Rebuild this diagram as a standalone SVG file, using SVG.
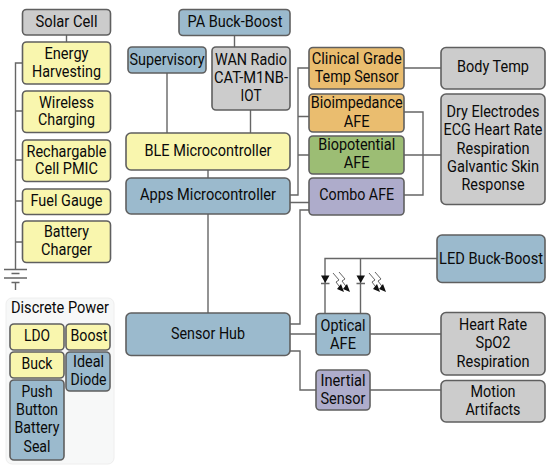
<svg xmlns="http://www.w3.org/2000/svg" width="556" height="468" viewBox="0 0 556 468">
<style>
text{font-family:Roboto,"Liberation Sans",sans-serif;font-size:16.5px;fill:#0a0a0a;text-anchor:middle}
.n{stroke:#5f5f5f;stroke-width:1.6}
.y{fill:#f9f6ae}.b{fill:#9bbacd}.g{fill:#cccccc}.o{fill:#eabd6f}.v{fill:#9cbd74}.p{fill:#aeaccb}
.c{fill:none;stroke:#666;stroke-width:1.4}
.k{fill:none;stroke:#555;stroke-width:.9}
.t{fill:#111;stroke:none}
</style>
<rect id="discrete-power-panel" x="6" y="298" width="108" height="166" rx="6" fill="#f7f8f8" stroke="#eeeeee" stroke-width="1"/>
<g id="connectors">
<path class="c" d="M66.5 35V42M22.500 63H15.500V270M15.500 111H22.500M15.500 160H22.500M15.500 201H22.500M15.500 242H22.500"/>
<path class="c" d="M4 269.500H27M11.500 273.500H19.500M4 278H27M11.500 282.500H19.500M15.500 282.500V290"/>
<path class="c" d="M234.500 35V47M167 73V133M250.500 110V133M208 170V178M208 214V313"/>
<path class="c" d="M290 195H298V68H309M298 116.500H309M298 155H309M290 202.500H309M290 324H300V210H309M290 334H316M290 351H300V390H316"/>
<path class="c" d="M404 68H441M404 112H423V195H404M404 155H441M370 334H441M370 390H441"/>
<path class="c" d="M437 258.500H325V313.500M360.500 258.500V313.500"/>
</g>
<g id="led-diodes">
<path class="t" d="M321 275.500H329.500L325.200 283ZM356.500 275.500H365L360.700 283Z"/>
<path class="c" d="M321 283.500H329.500M356.500 283.500H365"/>
<path class="k" d="M333 273L339 280L336 282L342 290M339 272L345 279L342 281L348 289M369 273L375 280L372 282L378 290M375 272L381 279L378 281L384 289"/>
<path class="t" d="M344 292L337 289L341 284ZM350 292L343 289L347 284ZM380 292L373 289L377 284ZM386 292L379 289L383 284Z"/>
</g>
<g id="solar-cell"><rect class="n g" x="22.500" y="9.500" width="88" height="25.500" rx="4"/><text x="66.500" y="27" textLength="62" lengthAdjust="spacingAndGlyphs">Solar Cell</text></g>
<g id="energy-harvesting"><rect class="n y" x="22.500" y="42" width="88" height="42" rx="4"/><text x="66.500" y="59" textLength="44" lengthAdjust="spacingAndGlyphs">Energy</text><text x="66.500" y="77" textLength="69" lengthAdjust="spacingAndGlyphs">Harvesting</text></g>
<g id="wireless-charging"><rect class="n y" x="22.500" y="91" width="88" height="41.500" rx="4"/><text x="66.500" y="107.500" textLength="55" lengthAdjust="spacingAndGlyphs">Wireless</text><text x="66.500" y="125" textLength="57" lengthAdjust="spacingAndGlyphs">Charging</text></g>
<g id="rechargable-cell-pmic"><rect class="n y" x="22.500" y="140" width="88" height="41.500" rx="4"/><text x="66.500" y="156.500" textLength="80" lengthAdjust="spacingAndGlyphs">Rechargable</text><text x="66.500" y="174" textLength="63" lengthAdjust="spacingAndGlyphs">Cell PMIC</text></g>
<g id="fuel-gauge"><rect class="n y" x="22.500" y="189" width="88" height="25.500" rx="4"/><text x="66.500" y="206" textLength="72" lengthAdjust="spacingAndGlyphs">Fuel Gauge</text></g>
<g id="battery-charger"><rect class="n y" x="22.500" y="221" width="88" height="41.500" rx="4"/><text x="66.500" y="237" textLength="45" lengthAdjust="spacingAndGlyphs">Battery</text><text x="66.500" y="255" textLength="51" lengthAdjust="spacingAndGlyphs">Charger</text></g>
<g id="discrete-power-label"><text x="60" y="313" textLength="98" lengthAdjust="spacingAndGlyphs">Discrete Power</text></g>
<g id="ldo"><rect class="n y" x="10" y="324" width="54" height="26" rx="4"/><text x="37" y="341" textLength="26" lengthAdjust="spacingAndGlyphs">LDO</text></g>
<g id="boost"><rect class="n y" x="66" y="324" width="44" height="26" rx="4"/><text x="89" y="341" textLength="37" lengthAdjust="spacingAndGlyphs">Boost</text></g>
<g id="buck"><rect class="n y" x="10" y="352" width="54" height="26" rx="4"/><text x="37" y="369" textLength="31" lengthAdjust="spacingAndGlyphs">Buck</text></g>
<g id="ideal-diode"><rect class="n b" x="66" y="352" width="44" height="39" rx="4"/><text x="88.500" y="367" textLength="31" lengthAdjust="spacingAndGlyphs">Ideal</text><text x="88.500" y="385" textLength="36" lengthAdjust="spacingAndGlyphs">Diode</text></g>
<g id="push-button"><rect class="n b" x="10" y="380" width="54" height="80" rx="4"/><text x="37" y="397" textLength="31" lengthAdjust="spacingAndGlyphs">Push</text><text x="37" y="415" textLength="42" lengthAdjust="spacingAndGlyphs">Button</text><text x="37" y="433" textLength="45" lengthAdjust="spacingAndGlyphs">Battery</text><text x="37" y="452" textLength="27" lengthAdjust="spacingAndGlyphs">Seal</text></g>
<g id="pa-buck-boost"><rect class="n b" x="179" y="9.500" width="111" height="26" rx="4"/><text x="235" y="27" textLength="95" lengthAdjust="spacingAndGlyphs">PA Buck-Boost</text></g>
<g id="supervisory"><rect class="n b" x="128" y="47" width="78" height="26" rx="4"/><text x="167" y="65" textLength="75" lengthAdjust="spacingAndGlyphs">Supervisory</text></g>
<g id="wan-radio"><rect class="n g" x="212" y="47" width="78" height="63" rx="4"/><text x="251" y="65" textLength="72" lengthAdjust="spacingAndGlyphs">WAN Radio</text><text x="251" y="83" textLength="74" lengthAdjust="spacingAndGlyphs">CAT-M1NB-</text><text x="251" y="101" textLength="21" lengthAdjust="spacingAndGlyphs">IOT</text></g>
<g id="ble-microcontroller"><rect class="n y" x="126" y="133" width="164" height="37" rx="5"/><text x="208" y="156" textLength="127" lengthAdjust="spacingAndGlyphs">BLE Microcontroller</text></g>
<g id="apps-microcontroller"><rect class="n b" x="126" y="178" width="164" height="36" rx="5"/><text x="208" y="200" textLength="136" lengthAdjust="spacingAndGlyphs">Apps Microcontroller</text></g>
<g id="sensor-hub"><rect class="n b" x="126" y="313" width="164" height="42.500" rx="5"/><text x="208" y="339" textLength="74" lengthAdjust="spacingAndGlyphs">Sensor Hub</text></g>
<g id="clinical-temp"><rect class="n o" x="309" y="47.500" width="95" height="41.500" rx="4"/><text x="356.700" y="63.500" textLength="90" lengthAdjust="spacingAndGlyphs">Clinical Grade</text><text x="356.700" y="82" textLength="84" lengthAdjust="spacingAndGlyphs">Temp Sensor</text></g>
<g id="bioimpedance-afe"><rect class="n o" x="309" y="94" width="95" height="38" rx="4"/><text x="356.700" y="108" textLength="92" lengthAdjust="spacingAndGlyphs">Bioimpedance</text><text x="356.700" y="126.500" textLength="26" lengthAdjust="spacingAndGlyphs">AFE</text></g>
<g id="biopotential-afe"><rect class="n v" x="309" y="136" width="95" height="38" rx="4"/><text x="356.700" y="150" textLength="77" lengthAdjust="spacingAndGlyphs">Biopotential</text><text x="356.700" y="168" textLength="26" lengthAdjust="spacingAndGlyphs">AFE</text></g>
<g id="combo-afe"><rect class="n p" x="309" y="178" width="95" height="37" rx="4"/><text x="356.700" y="200" textLength="75" lengthAdjust="spacingAndGlyphs">Combo AFE</text></g>
<g id="body-temp"><rect class="n g" x="441" y="47.500" width="104" height="41.500" rx="5"/><text x="493" y="72" textLength="72" lengthAdjust="spacingAndGlyphs">Body Temp</text></g>
<g id="dry-electrodes"><rect class="n g" x="441" y="94" width="104" height="110.500" rx="5"/><text x="493" y="117" textLength="93" lengthAdjust="spacingAndGlyphs">Dry Electrodes</text><text x="493" y="135" textLength="99" lengthAdjust="spacingAndGlyphs">ECG Heart Rate</text><text x="493" y="154" textLength="73" lengthAdjust="spacingAndGlyphs">Respiration</text><text x="493" y="172" textLength="92" lengthAdjust="spacingAndGlyphs">Galvantic Skin</text><text x="493" y="190" textLength="63" lengthAdjust="spacingAndGlyphs">Response</text></g>
<g id="led-buck-boost"><rect class="n b" x="437" y="235" width="108" height="47.500" rx="5"/><text x="491" y="264" textLength="104" lengthAdjust="spacingAndGlyphs">LED Buck-Boost</text></g>
<g id="optical-afe"><rect class="n b" x="316" y="313.500" width="54" height="41.500" rx="4"/><text x="343" y="330.500" textLength="45" lengthAdjust="spacingAndGlyphs">Optical</text><text x="343" y="348.500" textLength="26" lengthAdjust="spacingAndGlyphs">AFE</text></g>
<g id="inertial-sensor"><rect class="n p" x="316" y="370" width="54" height="40" rx="4"/><text x="343" y="386" textLength="45" lengthAdjust="spacingAndGlyphs">Inertial</text><text x="343" y="404" textLength="45" lengthAdjust="spacingAndGlyphs">Sensor</text></g>
<g id="heart-rate"><rect class="n g" x="441" y="312.500" width="104" height="62.500" rx="5"/><text x="493" y="330" textLength="68" lengthAdjust="spacingAndGlyphs">Heart Rate</text><text x="493" y="348" textLength="35" lengthAdjust="spacingAndGlyphs">SpO2</text><text x="493" y="367" textLength="73" lengthAdjust="spacingAndGlyphs">Respiration</text></g>
<g id="motion-artifacts"><rect class="n g" x="441" y="380.500" width="104" height="41.500" rx="5"/><text x="493" y="397" textLength="45" lengthAdjust="spacingAndGlyphs">Motion</text><text x="493" y="415" textLength="55" lengthAdjust="spacingAndGlyphs">Artifacts</text></g>
</svg>
